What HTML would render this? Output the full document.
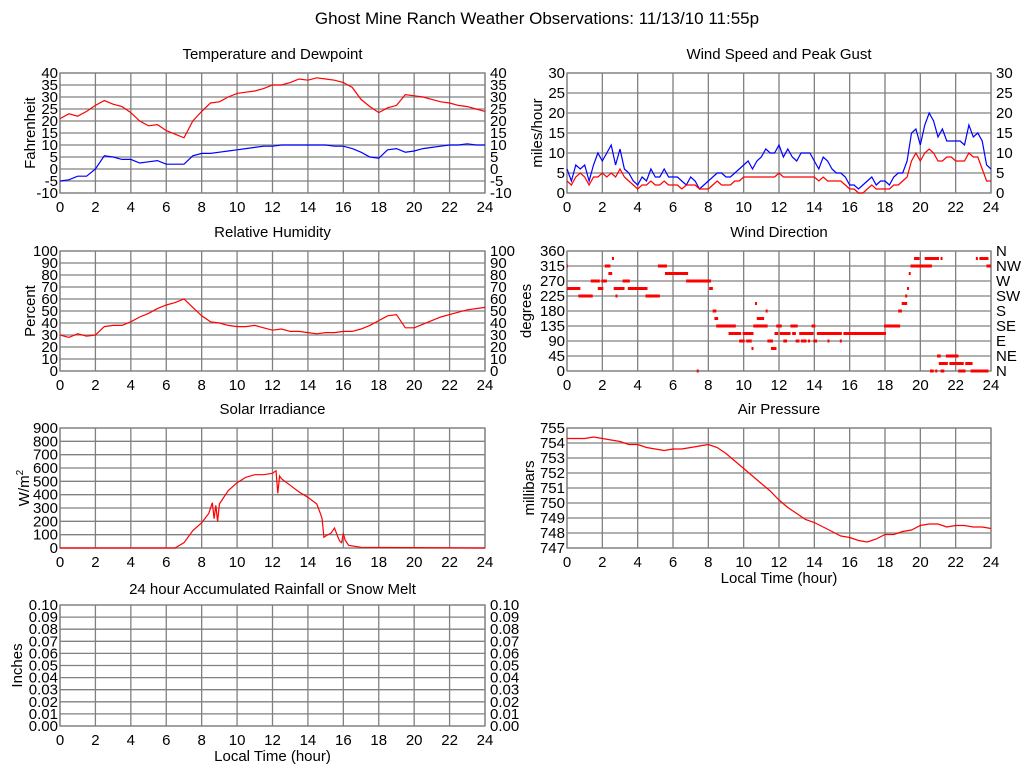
<!DOCTYPE html>
<html><head><meta charset="utf-8"><style>
body{margin:0;background:#fff;width:1024px;height:768px;overflow:hidden}
svg{display:block;font-family:"Liberation Sans",sans-serif}
</style></head><body>
<svg id="c" width="1024" height="768" xmlns="http://www.w3.org/2000/svg">
<text x="537" y="24" font-size="17" text-anchor="middle">Ghost Mine Ranch Weather Observations: 11/13/10 11:55p</text>
</svg>
<script>
const halfHours=[];for(let i=0;i<=48;i++)halfHours.push(i/2);
const quarterHours=[];for(let i=0;i<=96;i++)quarterHours.push(i/4);
const tempF=[21,23,22,24,26.5,28.5,27,26,23.5,20,18,18.5,16,14.5,13,20,24,27.5,28,30,31.5,32,32.5,33.5,35,35,36,37.5,37,38,37.5,37,36,34,29,26,23.5,25.5,26.5,31,30.5,30,29,28,27.5,26.5,26,25,24];
const dewF=[-5,-4.5,-3,-3,0,5.5,5,4,4,2.5,3,3.5,2,2,2,5.5,6.5,6.5,7,7.5,8,8.5,9,9.5,9.5,10,10,10,10,10,10,9.5,9.5,8.5,7,5,4.5,8,8.5,7,7.5,8.5,9,9.5,10,10,10.5,10,10];
const humidity=[30,28,31,29,30,37,38,38,41,45,48,52,55,57,60,53,46,41,40,38,37,37,38,36,34,35,33,33,32,31,32,32,33,33,35,38,42,46,47,36,36,39,42,45,47,49,51,52,53];
const pressure=[754.3,754.3,754.3,754.4,754.3,754.2,754.1,753.9,753.9,753.7,753.6,753.5,753.6,753.6,753.7,753.8,753.9,753.7,753.3,752.8,752.3,751.8,751.3,750.8,750.2,749.7,749.3,748.9,748.7,748.4,748.1,747.8,747.7,747.5,747.4,747.6,747.9,747.9,748.1,748.2,748.5,748.6,748.6,748.4,748.5,748.5,748.4,748.4,748.3];
const solarHours=[0,6.5,7,7.5,8,8.4,8.6,8.7,8.8,8.9,9,9.5,10,10.5,11,11.5,12,12.2,12.3,12.4,12.5,13,13.5,14,14.5,14.7,14.8,14.9,15,15.3,15.5,15.7,15.8,15.9,16,16.1,16.3,17,24];
const solarW=[0,0,40,130,190,260,340,220,320,200,330,430,490,530,550,550,560,580,410,540,520,470,420,380,330,260,220,80,90,110,150,80,50,40,110,60,20,5,0];
const gustMph=[6,3,7,6,7,3,7,10,8,10,12,7,11,6,5,3,2,4,3,6,4,4,6,4,4,4,3,2,4,3,1,2,3,4,5,5,4,4,5,6,7,8,6,8,9,11,10,10,12,9,11,9,8,10,10,10,8,6,9,8,6,5,5,4,2,2,1,2,3,4,2,3,3,2,4,5,5,8,15,16,12,17,20,18,14,16,13,13,13,13,12,17,14,15,13,7,6];
const speedMph=[3,2,4,5,4,2,4,4,5,4,5,4,6,4,3,2,1,2,2,3,2,2,3,2,2,2,1,2,2,2,1,1,1,2,3,2,2,2,3,3,4,4,4,4,4,4,4,4,5,4,4,4,4,4,4,4,4,3,4,3,3,3,3,2,1,1,0,0,1,2,1,1,1,1,2,2,3,4,8,10,8,10,11,10,8,8,9,9,8,8,8,10,9,9,6,3,3];
const dirStart=[0,0.05,0.7,1.4,1.8,2.0,2.2,2.4,2.6,2.7,2.8,3.2,3.5,4.5,5.2,5.6,6.8,7.4,8.1,8.3,8.4,8.5,9.2,9.3,9.5,9.8,10,10.2,10.5,10.6,10.7,10.8,11.0,11.3,11.4,11.6,11.8,11.9,12.1,12.3,12.7,12.8,13,13.2,13.3,13.5,13.7,13.9,14,14.2,14.8,15.5,15.7,18,18.8,19,19.2,19.3,19.4,19.5,19.7,20.3,21.2,20.6,20.9,21,21.1,21.2,21.3,21.5,21.7,22.2,22.3,22.6,22.9,23.2,23.4,23.8,23.5];
const dirEnd=[0,0.7,1.4,1.8,2.0,2.2,2.4,2.5,2.6,3.2,2.8,3.5,4.5,5.2,5.6,6.8,8.1,7.4,8.2,8.4,8.5,9.2,9.5,9.5,9.8,10,10.5,10.4,10.5,11.3,10.7,10.9,11.1,11.3,11.6,11.8,11.9,12.1,12.6,12.4,13,12.9,13.1,13.4,13.5,13.9,13.7,14,14.1,15.5,14.8,15.5,18,18.8,18.9,19.2,19.2,19.3,19.4,20.6,19.9,21,21.2,20.7,20.9,21.1,21.3,21.3,21.5,22.1,22.4,22.2,22.5,22.9,23.4,23.2,23.8,24,23.8];
const dirDeg=[315,247.5,225,270,247.5,270,315,292.5,337.5,247.5,225,270,247.5,225,315,292.5,270,0,247.5,180,157.5,135,112.5,135,112.5,90,112.5,90,67.5,135,202.5,157.5,157.5,180,90,67.5,112.5,135,112.5,90,135,112.5,90,112.5,90,112.5,90,135,90,112.5,90,90,112.5,135,180,202.5,225,247.5,292.5,315,337.5,337.5,337.5,0,0,45,22.5,0,22.5,45,22.5,0,0,22.5,0,337.5,337.5,315,0];
const timeTicks=[0,2,4,6,8,10,12,14,16,18,20,22,24];

const svg=document.getElementById('c');
const NS='http://www.w3.org/2000/svg';
function mk(tag,attrs,parent,txt){const e=document.createElementNS(NS,tag);for(const k in attrs)e.setAttribute(k,attrs[k]);if(txt!==undefined)e.textContent=txt;(parent||svg).appendChild(e);return e;}

function panel(o){
  const g=mk('g',{});
  
  
  const X=h=>o.x0+(o.x1-o.x0)*h/24;
  const Y=v=>o.y1-(o.y1-o.y0)*(v-o.min)/(o.max-o.min);
  const t=mk('text',{x:(o.x0+o.x1)/2,y:o.y0-(o.tdy||14),'font-size':15,'text-anchor':'middle'},g,o.title);
  
  
  const grid=mk('g',{stroke:'#808080','stroke-width':1.3,fill:'none'},g);
  
  
  timeTicks.forEach(h=>mk('line',{x1:X(h),x2:X(h),y1:o.y0,y2:o.y1},grid));
  o.ticks.forEach(v=>mk('line',{x1:o.x0,x2:o.x1,y1:Y(v),y2:Y(v)},grid));
  mk('rect',{x:o.x0,y:o.y0,width:o.x1-o.x0,height:o.y1-o.y0},grid);
  const yl=mk('g',{'font-size':15,'text-anchor':'end'},g);
  
  
  o.ticks.forEach((v,i)=>mk('text',{x:o.x0-2,y:Y(v)+5},yl,o.labels[i]));
  if(o.right){const yr=mk('g',{'font-size':15},g);
    
    
    o.ticks.forEach((v,i)=>mk('text',{x:o.x1+5,y:Y(v)+5},yr,o.right[i]));}
  const xl=mk('g',{'font-size':15,'text-anchor':'middle'},g);
  
  
  timeTicks.forEach(h=>mk('text',{x:X(h),y:o.y1+19},xl,h));
  const cy=(o.y0+o.y1)/2;
  const ya=mk('text',{x:o.ytx,y:cy,'font-size':15,'text-anchor':'middle',transform:`rotate(-90 ${o.ytx} ${cy})`},g);
  
  
  if(o.ytitleHTML){ya.textContent='W/m';mk('tspan',{dy:-6,'font-size':10},ya,'2');}else ya.textContent=o.ytitle;
  if(o.xtitle){const xt=mk('text',{x:(o.x0+o.x1)/2,y:o.y1+35,'font-size':15,'text-anchor':'middle'},g,o.xtitle);
    
    }
  o.X=X;o.Y=Y;o.g=g;return o;
}
function line(p,hrs,vals,color,name){
  const d=hrs.map((h,i)=>(i?'L':'M')+p.X(h).toFixed(1)+','+p.Y(vals[i]).toFixed(1)).join('');
  const e=mk('path',{d,stroke:color,'stroke-width':1.2,fill:'none'},p.g);
  
  
}
function range(a,b,s){const r=[];for(let v=a;v<=b+1e-9;v+=s)r.push(+v.toFixed(2));return r;}

const L={x0:60,x1:485},R={x0:567,x1:991};
const t1=range(-10,40,5);
const pT=panel({name:'temperature',title:'Temperature and Dewpoint',...L,y0:73,y1:193,min:-10,max:40,ticks:t1,labels:t1,right:t1,ytitle:'Fahrenheit',ytx:35});
line(pT,halfHours,tempF,'#ff0000','temperature-line');
line(pT,halfHours,dewF,'#0000ff','dewpoint-line');

const t2=range(0,30,5);
const pW=panel({name:'wind-speed',title:'Wind Speed and Peak Gust',...R,y0:73,y1:193,min:0,max:30,ticks:t2,labels:t2,right:t2,ytitle:'miles/hour',ytx:542});
line(pW,quarterHours,gustMph,'#0000ff','gust-line');
line(pW,quarterHours,speedMph,'#ff0000','speed-line');

const t3=range(0,100,10);
const pH=panel({name:'humidity',title:'Relative Humidity',...L,y0:251,y1:371,min:0,max:100,ticks:t3,labels:t3,right:t3,ytitle:'Percent',ytx:35});
line(pH,halfHours,humidity,'#ff0000','humidity-line');

const t4=range(0,360,45);
const pD=panel({name:'wind-direction',title:'Wind Direction',...R,y0:251,y1:371,min:0,max:360,ticks:t4,labels:t4,right:['N','NE','E','SE','S','SW','W','NW','N'],ytitle:'degrees',ytx:531});
dirDeg.forEach((d,i)=>{
  const x0=pD.X(dirStart[i])-1,x1=pD.X(dirEnd[i])+1;
  const r=mk('rect',{x:Math.max(pD.x0,x0),y:pD.Y(d)-1.5,width:Math.min(pD.x1,x1)-Math.max(pD.x0,x0),height:3,fill:'#ff0000'},pD.g);
  
  
});

const t5=range(0,900,100);
const pS=panel({name:'solar',title:'Solar Irradiance',...L,y0:428,y1:548,min:0,max:900,ticks:t5,labels:t5,ytitleHTML:true,ytx:29});
line(pS,solarHours,solarW,'#ff0000','solar-line');

const t6=range(747,755,1);
const pP=panel({name:'pressure',title:'Air Pressure',...R,y0:428,y1:548,min:747,max:755,ticks:t6,labels:t6,ytitle:'millibars',ytx:534,xtitle:'Local Time (hour)'});
line(pP,halfHours,pressure,'#ff0000','pressure-line');

const t7=range(0,0.1,0.01);
const lab7=t7.map(v=>v.toFixed(2));
const pRn=panel({name:'rainfall',title:'24 hour Accumulated Rainfall or Snow Melt',...L,y0:605,y1:726,min:0,max:0.1,ticks:t7,labels:lab7,right:lab7,ytitle:'Inches',ytx:22,xtitle:'Local Time (hour)',tdy:11});
</script>
</body></html>
